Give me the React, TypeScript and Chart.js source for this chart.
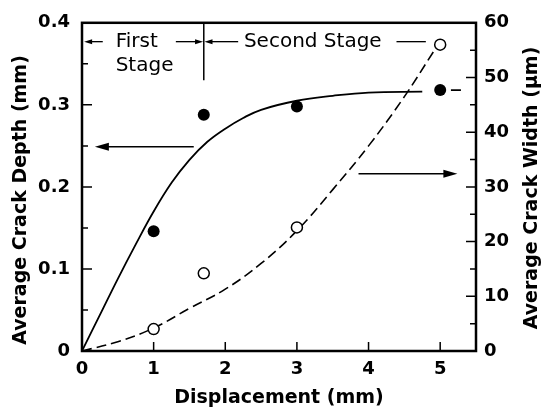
import React, { useEffect, useRef } from 'react';
import { Chart, registerables } from 'chart.js';

Chart.register(...registerables);

// ---- data ----
const displacementTicks = [0, 1, 2, 3, 4, 5];
const depthTicks = [0, 0.1, 0.2, 0.3, 0.4];
const widthTicks = [0, 10, 20, 30, 40, 50, 60];
const depthMinorTicks = [0.05, 0.15, 0.25, 0.35];
const widthMinorTicks = [5, 15, 25, 35, 45, 55];

const measuredDisplacement = [1, 1.7, 3, 5];
const measuredDepth = [0.146, 0.288, 0.298, 0.318];
const measuredWidth = [4, 14.2, 22.6, 56];

const depthCurveX = [0, 0.25, 0.5, 0.75, 1, 1.25, 1.5, 1.75, 2, 2.25, 2.5, 3, 3.5, 4, 4.75];
const depthCurveY = [0, 0.044, 0.088, 0.13, 0.17, 0.205, 0.233, 0.255, 0.271, 0.284, 0.294, 0.305, 0.311, 0.315, 0.316];

const widthCurveX = [0, 0.5, 1, 1.5, 2, 2.5, 3, 3.5, 4, 4.5, 4.92];
const widthCurveY = [0, 1.7, 4.2, 7.8, 11.3, 16, 22, 29.5, 37.5, 46.5, 55];

const depthKeyDashX = [5.15, 5.35];
const depthKeyDashY = [0.318, 0.318];

// annotation values (data units)
const stageBoundary = 1.7;
const stageBoundaryBottom = 0.33;
const stageArrowLevel = 0.377;
const stageSecondLine = 0.348;
const firstArrowX = [0.03, 0.29];
const firstToBoundaryX = [1.31, 1.69];
const secondFromBoundaryX = [1.71, 2.18];
const secondTailX = [4.39, 4.8];
const firstLabelX = 0.47;
const secondLabelX = 2.26;
const depthArrowX = [1.56, 0.18];
const depthArrowLevel = 0.249;
const widthArrowX = [3.86, 5.24];
const widthArrowLevel = 0.216;

const FONT = '"DejaVu Sans", sans-serif';

function pts(xs: number[], ys: number[]) {
  return xs.map((x, i) => ({ x, y: ys[i] }));
}

function arrow(ctx: CanvasRenderingContext2D, x1: number, x2: number, y: number, head: number, half: number, lw: number) {
  const dir = Math.sign(x2 - x1);
  ctx.lineWidth = lw;
  ctx.beginPath();
  ctx.moveTo(x1, y);
  ctx.lineTo(x2 - dir * head * 0.6, y);
  ctx.stroke();
  ctx.beginPath();
  ctx.moveTo(x2, y);
  ctx.lineTo(x2 - dir * head, y - half);
  ctx.lineTo(x2 - dir * head, y + half);
  ctx.closePath();
  ctx.fill();
}

const decorPlugin = {
  id: 'decor',
  afterDraw(chart: any) {
    const ctx: CanvasRenderingContext2D = chart.ctx;
    const xs = chart.scales.x;
    const ys = chart.scales.y;
    const y2 = chart.scales.y2;
    const { left, right, top, bottom } = chart.chartArea;
    ctx.save();
    ctx.strokeStyle = '#000';
    ctx.fillStyle = '#000';
    // frame
    ctx.lineWidth = 2.5;
    ctx.strokeRect(left, top, right - left, bottom - top);
    // ticks (inward)
    ctx.lineWidth = 1.5;
    ctx.beginPath();
    displacementTicks.forEach((v) => {
      const px = xs.getPixelForValue(v);
      ctx.moveTo(px, bottom);
      ctx.lineTo(px, bottom - 9);
    });
    depthTicks.forEach((v) => {
      const py = ys.getPixelForValue(v);
      ctx.moveTo(left, py);
      ctx.lineTo(left + 10, py);
    });
    depthMinorTicks.forEach((v) => {
      const py = ys.getPixelForValue(v);
      ctx.moveTo(left, py);
      ctx.lineTo(left + 6, py);
    });
    widthTicks.forEach((v) => {
      const py = y2.getPixelForValue(v);
      ctx.moveTo(right, py);
      ctx.lineTo(right - 10, py);
    });
    widthMinorTicks.forEach((v) => {
      const py = y2.getPixelForValue(v);
      ctx.moveTo(right, py);
      ctx.lineTo(right - 6, py);
    });
    ctx.stroke();

    // stage annotation
    const sy = ys.getPixelForValue(stageArrowLevel);
    const bx = xs.getPixelForValue(stageBoundary);
    ctx.lineWidth = 1.5;
    ctx.beginPath();
    ctx.moveTo(bx, top);
    ctx.lineTo(bx, ys.getPixelForValue(stageBoundaryBottom));
    ctx.stroke();
    arrow(ctx, xs.getPixelForValue(firstArrowX[1]), xs.getPixelForValue(firstArrowX[0]), sy, 8, 2.5, 1.3);
    arrow(ctx, xs.getPixelForValue(firstToBoundaryX[0]), xs.getPixelForValue(firstToBoundaryX[1]), sy, 8, 2.5, 1.3);
    arrow(ctx, xs.getPixelForValue(secondFromBoundaryX[1]), xs.getPixelForValue(secondFromBoundaryX[0]), sy, 8, 2.5, 1.3);
    ctx.lineWidth = 1.3;
    ctx.beginPath();
    ctx.moveTo(xs.getPixelForValue(secondTailX[0]), sy);
    ctx.lineTo(xs.getPixelForValue(secondTailX[1]), sy);
    ctx.stroke();

    ctx.font = `20px ${FONT}`;
    ctx.textAlign = 'left';
    ctx.textBaseline = 'middle';
    ctx.fillText('First', xs.getPixelForValue(firstLabelX), sy);
    ctx.fillText('Stage', xs.getPixelForValue(firstLabelX), ys.getPixelForValue(stageSecondLine));
    ctx.fillText('Second Stage', xs.getPixelForValue(secondLabelX), sy);

    // big arrows
    arrow(ctx, xs.getPixelForValue(depthArrowX[0]), xs.getPixelForValue(depthArrowX[1]), ys.getPixelForValue(depthArrowLevel), 14, 4, 1.6);
    arrow(ctx, xs.getPixelForValue(widthArrowX[0]), xs.getPixelForValue(widthArrowX[1]), ys.getPixelForValue(widthArrowLevel), 14, 4, 1.6);

    // y titles (both read bottom to top)
    ctx.font = `bold 19px ${FONT}`;
    ctx.textAlign = 'center';
    ctx.textBaseline = 'middle';
    ctx.save();
    ctx.translate(21, 200);
    ctx.rotate(-Math.PI / 2);
    ctx.fillText('Average Crack Depth (mm)', 0, 0);
    ctx.restore();
    ctx.save();
    ctx.translate(532, 188);
    ctx.rotate(-Math.PI / 2);
    ctx.fillText('Average Crack Width (\u00b5m)', 0, 0);
    ctx.restore();

    ctx.restore();
  },
};

export default function App() {
  const ref = useRef<HTMLCanvasElement | null>(null);
  useEffect(() => {
    if (!ref.current) return;
    Chart.defaults.font.family = FONT;
    const tickFont = { size: 18, weight: 'bold' as const, family: FONT };
    const chart = new Chart(ref.current, {
      type: 'line',
      data: {
        datasets: [
          {
            type: 'scatter',
            data: pts(measuredDisplacement, measuredDepth),
            yAxisID: 'y',
            pointRadius: 6,
            backgroundColor: '#000',
            borderColor: '#000',
            borderWidth: 0,
          },
          {
            type: 'scatter',
            data: pts(measuredDisplacement, measuredWidth),
            yAxisID: 'y2',
            pointRadius: 5.5,
            backgroundColor: '#fff',
            borderColor: '#000',
            borderWidth: 1.5,
          },
          {
            data: pts(depthCurveX, depthCurveY),
            yAxisID: 'y',
            borderColor: '#000',
            borderWidth: 1.8,
            pointRadius: 0,
            tension: 0.4,
            fill: false,
          },
          {
            data: pts(widthCurveX, widthCurveY),
            yAxisID: 'y2',
            borderColor: '#000',
            borderWidth: 1.6,
            borderDash: [10, 5],
            pointRadius: 0,
            tension: 0.4,
            fill: false,
          },
          {
            data: pts(depthKeyDashX, depthKeyDashY),
            yAxisID: 'y',
            borderColor: '#000',
            borderWidth: 1.6,
            borderDash: [10, 5],
            pointRadius: 0,
            fill: false,
          },
        ],
      } as any,
      options: {
        animation: false,
        responsive: false,
        layout: { padding: { top: 19, left: 0, right: 0, bottom: 0 } },
        plugins: { legend: { display: false }, tooltip: { enabled: false } },
        scales: {
          x: {
            type: 'linear',
            min: 0,
            max: 5.5,
            afterBuildTicks: (s: any) => {
              s.ticks = displacementTicks.map((v) => ({ value: v }));
            },
            afterFit: (s: any) => {
              s.height = 61;
            },
            grid: { display: false, drawTicks: false },
            border: { display: false },
            ticks: { padding: 8, font: tickFont, color: '#000', maxRotation: 0 },
            title: {
              display: true,
              text: 'Displacement (mm)',
              color: '#000',
              font: { size: 19, weight: 'bold', family: FONT },
              padding: { top: 0, bottom: 3 },
            },
          },
          y: {
            type: 'linear',
            position: 'left',
            min: 0,
            max: 0.4,
            afterBuildTicks: (s: any) => {
              s.ticks = depthTicks.map((v) => ({ value: v }));
            },
            afterFit: (s: any) => {
              s.width = 82;
            },
            grid: { display: false, drawTicks: false },
            border: { display: false },
            ticks: { padding: 12, font: tickFont, color: '#000' },
          },
          y2: {
            type: 'linear',
            position: 'right',
            min: 0,
            max: 60,
            afterBuildTicks: (s: any) => {
              s.ticks = widthTicks.map((v) => ({ value: v }));
            },
            afterFit: (s: any) => {
              s.width = 68;
            },
            grid: { display: false, drawTicks: false },
            border: { display: false },
            ticks: { padding: 8, font: tickFont, color: '#000' },
          },
        },
      } as any,
      plugins: [decorPlugin],
    });
    return () => chart.destroy();
  }, []);
  return (
    <div style={{ position: 'fixed', left: 0, top: 0, width: 544, height: 412, background: '#fff' }}>
      <canvas ref={ref} width={544} height={412} style={{ display: 'block' }} />
    </div>
  );
}
